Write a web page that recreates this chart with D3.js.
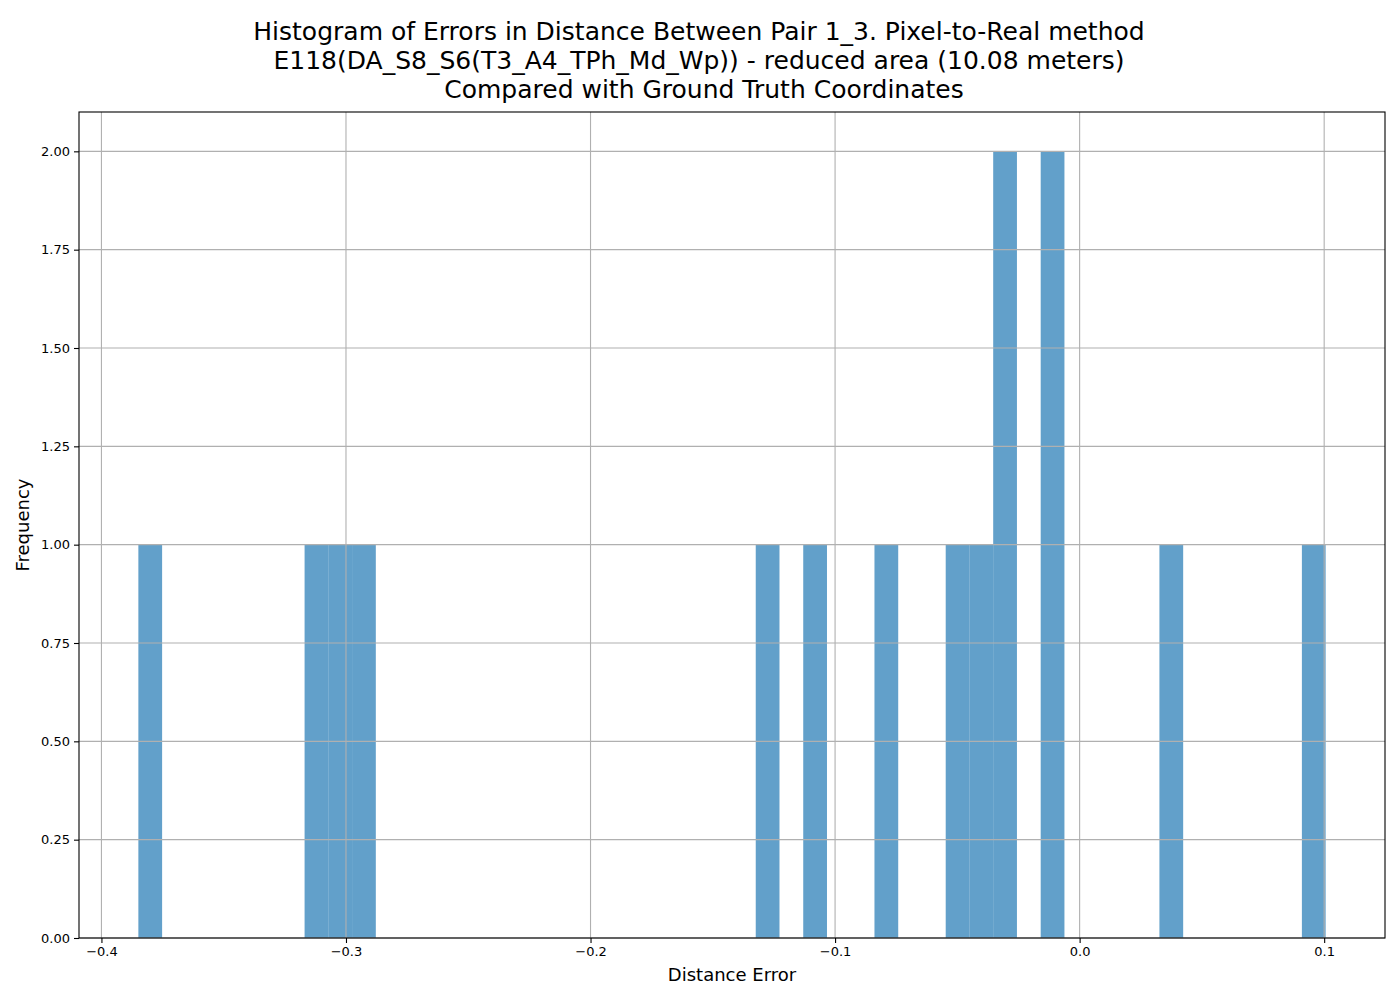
<!DOCTYPE html>
<html>
<head>
<meta charset="utf-8">
<script src="https://cdn.jsdelivr.net/npm/d3@7"></script>
<style>
  body { margin: 0; background: #fff; }
  text { font-family: "DejaVu Sans", sans-serif; }
</style>
</head>
<body>
<div id="chart"></div>
<script>
// histogram: 50 equal bins between errMin and errMax, only non-empty bins listed
var errMin = -0.3849;
var errMax = 0.1006;
var binCount = 50;
var binIndex = [0, 7, 8, 9, 26, 28, 31, 34, 35, 36, 38, 43, 49];
var binFreq  = [1, 1, 1, 1, 1, 1, 1, 1, 1, 2, 2, 1, 1];

var xTicks = [-0.4, -0.3, -0.2, -0.1, 0.0, 0.1];
var yTicks = [0, 0.25, 0.5, 0.75, 1.0, 1.25, 1.5, 1.75, 2.0];

var titleLines = [
  "Histogram of Errors in Distance Between Pair 1_3. Pixel-to-Real method",
  "E118(DA_S8_S6(T3_A4_TPh_Md_Wp)) - reduced area (10.08 meters)",
  "Compared with Ground Truth Coordinates"
];

var svgWidth = 1400;
var svgHeight = 1000;
var margin = { top: 112, right: 15, bottom: 62, left: 79 };
var width = svgWidth - margin.left - margin.right;
var height = svgHeight - margin.top - margin.bottom;

var svg = d3.select("#chart")
  .append("svg")
  .attr("width", svgWidth)
  .attr("height", svgHeight);

var chartGroup = svg.append("g")
  .attr("transform", `translate(${margin.left}, ${margin.top})`);

var binWidth = (errMax - errMin) / binCount;
var bins = binIndex.map(function(b, i) {
  return { x0: errMin + b * binWidth, x1: errMin + (b + 1) * binWidth, count: binFreq[i] };
});

// matplotlib style 5% padding on x
var pad = (errMax - errMin) * 0.05;
var xScale = d3.scaleLinear()
  .domain([errMin - pad, errMax + pad])
  .range([0, width]);

var yScale = d3.scaleLinear()
  .domain([0, 2.1])
  .range([height, 0]);

// bars
chartGroup.selectAll("rect.bar")
  .data(bins)
  .enter()
  .append("rect")
  .attr("class", "bar")
  .attr("x", d => xScale(d.x0))
  .attr("y", d => yScale(d.count))
  .attr("width", d => xScale(d.x1) - xScale(d.x0))
  .attr("height", d => height - yScale(d.count))
  .attr("fill", "#1f77b4")
  .attr("fill-opacity", 0.7);

// grid (drawn above bars like the source)
chartGroup.append("g")
  .selectAll("line")
  .data(xTicks)
  .enter()
  .append("line")
  .attr("x1", d => xScale(d)).attr("x2", d => xScale(d))
  .attr("y1", 0).attr("y2", height)
  .attr("stroke", "#b0b0b0")
  .attr("stroke-width", 1.1);

chartGroup.append("g")
  .selectAll("line")
  .data(yTicks)
  .enter()
  .append("line")
  .attr("x1", 0).attr("x2", width)
  .attr("y1", d => yScale(d)).attr("y2", d => yScale(d))
  .attr("stroke", "#b0b0b0")
  .attr("stroke-width", 1.1);

// axes
var bottomAxis = d3.axisBottom(xScale)
  .tickValues(xTicks)
  .tickSize(5)
  .tickPadding(4)
  .tickFormat(d => d3.format(".1f")(d).replace("-", "\u2212"));

var leftAxis = d3.axisLeft(yScale)
  .tickValues(yTicks)
  .tickSize(5)
  .tickPadding(4)
  .tickFormat(d3.format(".2f"));

var xAxis = chartGroup.append("g")
  .attr("transform", `translate(0, ${height})`)
  .call(bottomAxis);

var yAxis = chartGroup.append("g")
  .call(leftAxis);

[xAxis, yAxis].forEach(function(ax) {
  ax.select(".domain").remove();
  ax.attr("font-size", null).attr("font-family", null);
  ax.selectAll("text")
    .attr("font-size", "13px")
    .attr("fill", "#000");
  ax.selectAll(".tick line").attr("stroke", "#000").attr("stroke-width", 1.1);
});

// frame
chartGroup.append("rect")
  .attr("width", width)
  .attr("height", height)
  .attr("fill", "none")
  .attr("stroke", "#000")
  .attr("stroke-width", 1.1);

// axis labels
chartGroup.append("text")
  .attr("x", width / 2)
  .attr("y", height + 43)
  .attr("text-anchor", "middle")
  .attr("font-size", "18px")
  .text("Distance Error");

chartGroup.append("text")
  .attr("transform", "rotate(-90)")
  .attr("x", -height / 2)
  .attr("y", -50)
  .attr("text-anchor", "middle")
  .attr("font-size", "18px")
  .text("Frequency");

// title
var title = svg.append("text")
  .attr("x", svgWidth / 2)
  .attr("y", 40)
  .attr("text-anchor", "middle")
  .attr("font-size", "25px");

title.selectAll("tspan")
  .data(titleLines)
  .enter()
  .append("tspan")
  .attr("x", (d, i) => i === 2 ? svgWidth / 2 + 4 : svgWidth / 2 - 1)
  .attr("dy", (d, i) => i === 0 ? 0 : 29)
  .text(d => d);
</script>
</body>
</html>
